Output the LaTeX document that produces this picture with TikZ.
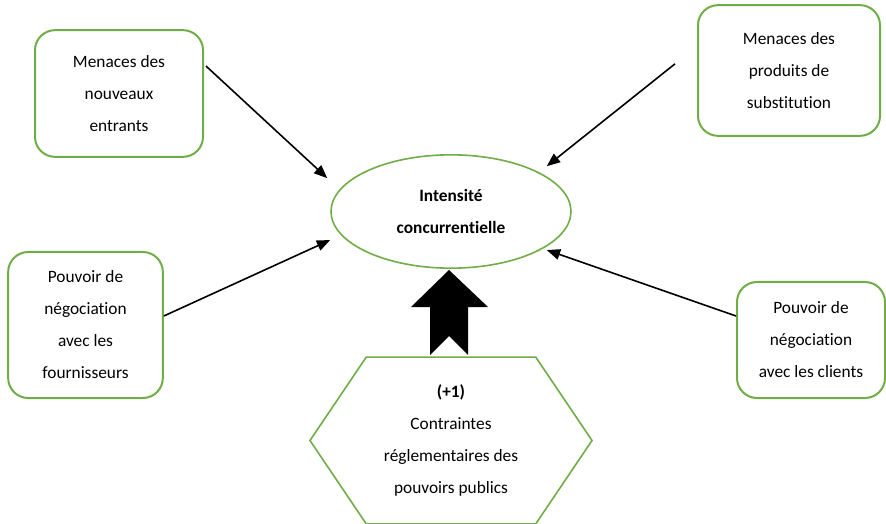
\documentclass[tikz,border=0pt]{standalone}
\usepackage{fontspec}
\setmainfont[Ligatures=NoCommon]{Carlito}
\usetikzlibrary{shapes.geometric,shapes.symbols,arrows.meta}
\definecolor{vert}{RGB}{112,173,71}
\tikzset{
  force/.style={draw=vert, line width=1.5pt, rounded corners=15pt, align=center,
    font=\fontsize{13}{24}\selectfont, inner sep=0pt},
  fleche/.style={-{Triangle[length=10pt,width=8pt]}, line width=1.2pt}
}
\begin{document}
\begin{tikzpicture}[x=0.75pt,y=-0.75pt]
	  \useasboundingbox (0,0) rectangle (886,524);
	  \node[force, minimum width=126pt, minimum height=95pt] (entrants) at (119,93.5) {Menaces des\\nouveaux\\entrants};
	  \node[force, minimum width=136.5pt, minimum height=98pt] (substitution) at (789,70.5) {Menaces des\\produits de\\substitution};
	  \node[force, minimum width=116pt, minimum height=109.5pt] (fournisseurs) at (85.5,325) {Pouvoir de\\négociation\\avec les\\fournisseurs};
	  \node[force, minimum width=111pt, minimum height=87pt] (clients) at (811,340) {Pouvoir de\\négociation\\avec les clients};
	  \node[ellipse, draw=vert, line width=1.2pt, minimum width=180pt, minimum height=85pt, align=center,
	    font=\fontsize{13}{24}\selectfont\bfseries] (centre) at (451,211.5) {Intensité\\concurrentielle};
	  \node[signal, signal to=west and east, signal pointer angle=112, draw=vert, line width=1.2pt,
	    minimum width=211.5pt, minimum height=125pt, inner sep=0pt, align=center,
	    font=\fontsize{13}{24}\selectfont] (regle) at (451,440.5) {\textbf{(+1)}\\Contraintes\\réglementaires des\\pouvoirs publics};
	  
	  \draw[fleche] ([shift={(1.5pt,20.6pt)}]entrants.east) -- ([shift={(-2.2pt,25pt)}]centre.west);
	  \draw[fleche] ([shift={(-16.5pt,5pt)}]substitution.west) -- ([shift={(-18.75pt,34pt)}]centre.east);
	  \draw[fleche] ([shift={(0pt,6.75pt)}]fournisseurs.east) -- ([shift={(0pt,-21.4pt)}]centre.west);
	  \draw[fleche] ([shift={(0pt,18pt)}]clients.west) -- ([shift={(-18.75pt,-28.9pt)}]centre.east);
	  
	  \fill (449,270) -- (488,307) -- (468,307) -- (468,355) -- (449,336) -- (430,355) -- (430,307) -- (411,307) -- cycle;
	\end{tikzpicture}
\end{document}
